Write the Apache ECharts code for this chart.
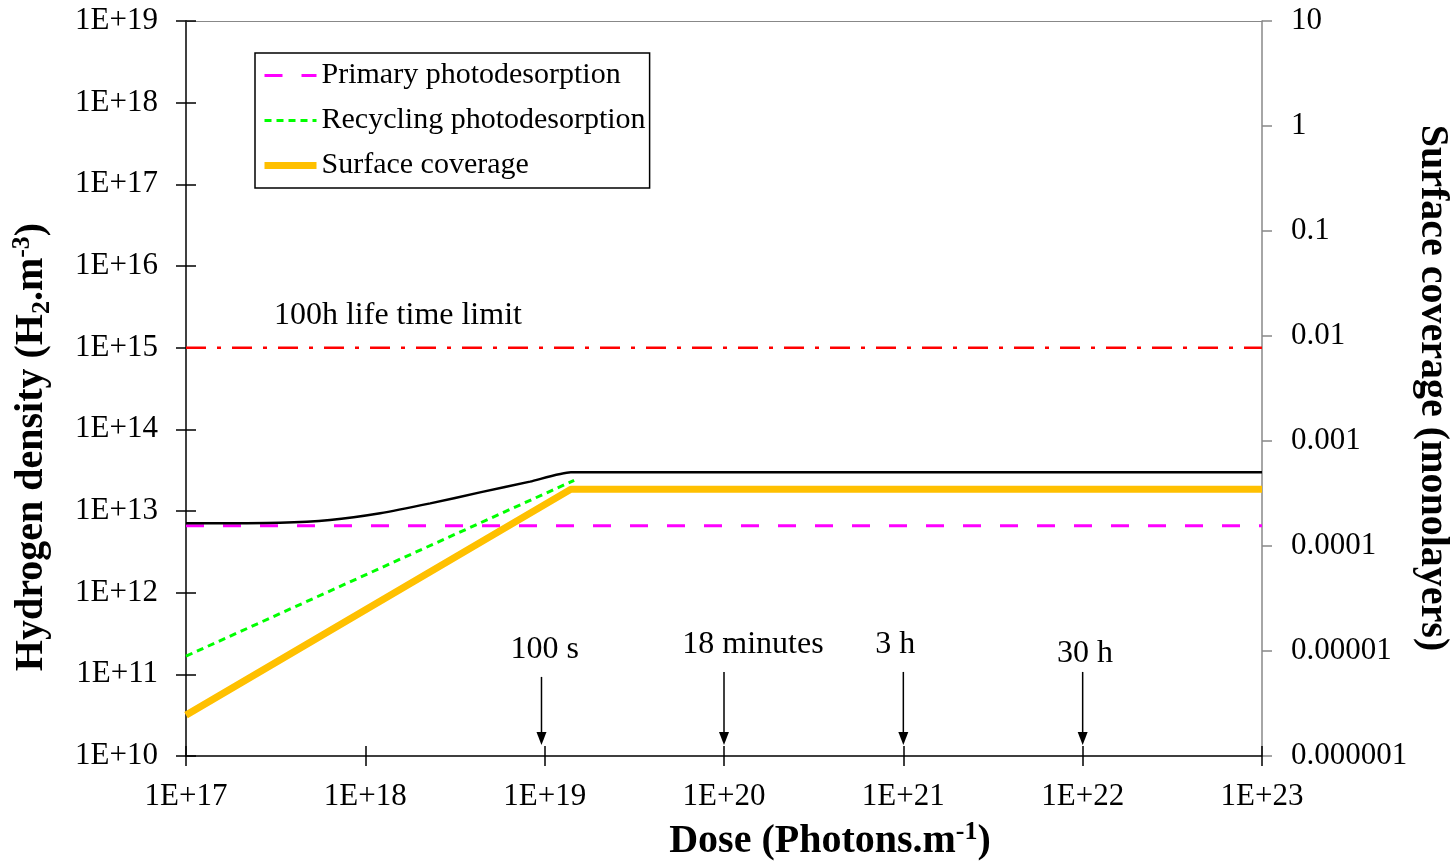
<!DOCTYPE html>
<html><head><meta charset="utf-8">
<script src="https://cdn.jsdelivr.net/npm/echarts@6/dist/echarts.min.js"></script>
<style>html,body{margin:0;padding:0;background:#fff}#c{width:1454px;height:862px}</style>
</head><body><div id="c"></div>
<script>
// ---- tick labels ----
const doseTickLabels = ['1E+17','1E+18','1E+19','1E+20','1E+21','1E+22','1E+23'];
const densityTickLabels = ['1E+10','1E+11','1E+12','1E+13','1E+14','1E+15','1E+16','1E+17','1E+18','1E+19'];
const coverageTickLabels = ['0.000001','0.00001','0.0001','0.001','0.01','0.1','1','10'];

// ---- series values ----
const primaryDose = [1e17, 1e23];
const primaryDensity = [6.6e12, 6.6e12];

const recyclingDose = [1e17, 1.46e19];
const recyclingDensity = [1.67e11, 2.37e13];

const coverageDose = [1e17, 1.4e19, 1e23];
const coverageValue = [2.45e-6, 3.47e-4, 3.47e-4];

const totalDose = [1e17, 3.34e17, 6.35e17, 1.21e18, 2.3e18, 4.36e18, 8.28e18, 1.4e19, 1e23];
const totalDensity = [7.06e12, 7.2e12, 7.76e12, 9.38e12, 1.24e13, 1.69e13, 2.29e13, 2.98e13, 2.98e13];

const limitDose = [1e17, 1e23];
const limitDensity = [1e15, 1e15];

// ---- annotations ----
const noteTexts = ['100h life time limit', '100 s', '18 minutes', '3 h', '30 h'];
const noteDose = [1.52e18, 1e19, 1.45e20, 9.0e20, 1.03e22];
const noteDensity = [2.5e15, 1.99e11, 2.29e11, 2.29e11, 1.82e11];

const arrowDose = [9.6e18, 1e20, 1e21, 1e22];
const arrowTopDensity = [9.3e10, 1.07e11, 1.07e11, 1.07e11];
const arrowTipDensity = [1.36e10, 1.36e10, 1.36e10, 1.36e10];

const legendNames = ['Primary photodesorption', 'Recycling photodesorption', 'Surface coverage'];

const FONT = 'Liberation Serif';
const TITLE_COLOR = '#333399';

const zip = (a, b) => a.map((v, i) => [v, b[i]]);
const expIndex = (v, base) => Math.round(Math.log10(v)) - base;

const chart = echarts.init(document.getElementById('c'), null, {renderer: 'canvas'});

const titleRich = {
  t: {fontFamily: FONT, fontSize: 40, fontWeight: 'bold', color: TITLE_COLOR, lineHeight: 46},
  sub: {fontFamily: FONT, fontSize: 26, fontWeight: 'bold', color: TITLE_COLOR, lineHeight: 26, verticalAlign: 'bottom'},
  sup: {fontFamily: FONT, fontSize: 26, fontWeight: 'bold', color: TITLE_COLOR, lineHeight: 26, verticalAlign: 'top'}
};

const baseX = {type: 'log', logBase: 10, min: 1e17, max: 1e23, gridIndex: 0, splitLine: {show: false}};
const baseYL = {type: 'log', logBase: 10, min: 1e10, max: 1e19, gridIndex: 0, splitLine: {show: false}};

const option = {
  animation: false,
  backgroundColor: '#fff',
  grid: {left: 186, right: 192, top: 21, bottom: 106, containLabel: false},
  xAxis: [
    Object.assign({}, baseX, {
      position: 'bottom',
      axisLine: {show: true, lineStyle: {color: '#000', width: 1.5}},
      axisTick: {show: true, inside: false, length: 10, lineStyle: {color: '#000', width: 1.5}},
      axisLabel: {show: true, fontFamily: FONT, fontSize: 31, color: '#000', margin: 25,
        showMinLabel: true, showMaxLabel: true,
        formatter: v => doseTickLabels[expIndex(v, 17)]}
    }),
    Object.assign({}, baseX, {
      position: 'bottom',
      axisLine: {show: false},
      axisTick: {show: true, inside: true, length: 10, lineStyle: {color: '#000', width: 1.5}},
      axisLabel: {show: false}
    }),
    Object.assign({}, baseX, {
      position: 'top',
      axisLine: {show: true, lineStyle: {color: '#888', width: 1.2}},
      axisTick: {show: false},
      axisLabel: {show: false}
    })
  ],
  yAxis: [
    Object.assign({}, baseYL, {
      position: 'left',
      axisLine: {show: true, lineStyle: {color: '#000', width: 1.5}},
      axisTick: {show: true, inside: false, length: 10, lineStyle: {color: '#000', width: 1.5}},
      axisLabel: {show: true, fontFamily: FONT, fontSize: 31, color: '#000', margin: 28,
        showMinLabel: true, showMaxLabel: true,
        formatter: v => densityTickLabels[expIndex(v, 10)]}
    }),
    {
      type: 'log', logBase: 10, min: 1e-6, max: 10, gridIndex: 0, position: 'right',
      splitLine: {show: false},
      axisLine: {show: true, lineStyle: {color: '#888', width: 1.5}},
      axisTick: {show: true, inside: false, length: 10, lineStyle: {color: '#888', width: 1.5}},
      axisLabel: {show: true, fontFamily: FONT, fontSize: 31, color: '#000', margin: 29,
        showMinLabel: true, showMaxLabel: true,
        formatter: v => coverageTickLabels[expIndex(v, -6)]}
    },
    Object.assign({}, baseYL, {
      position: 'left',
      axisLine: {show: false},
      axisTick: {show: true, inside: true, length: 10, lineStyle: {color: '#000', width: 1.5}},
      axisLabel: {show: false}
    })
  ],
  legend: {
    orient: 'vertical', left: 255, top: 53,
    data: [
      {name: legendNames[0], itemStyle: {opacity: 0}, lineStyle: {width: 3}},
      {name: legendNames[1], itemStyle: {opacity: 0}, lineStyle: {width: 3}},
      {name: legendNames[2], itemStyle: {opacity: 0}, lineStyle: {width: 7}}
    ],
    itemWidth: 52, itemHeight: 14, itemGap: 0,
    padding: [0, 4, 0, 6],
    borderColor: '#000', borderWidth: 1.5, backgroundColor: '#fff',
    textStyle: {fontFamily: FONT, fontSize: 30, color: '#000', lineHeight: 45},
    selectedMode: false
  },
  graphic: [
    {type: 'text', x: 32, y: 447, rotation: Math.PI / 2,
      style: {text: '{t|Hydrogen density (H}{sub|2}{t|.m}{sup|-3}{t|)}', rich: titleRich, align: 'center', verticalAlign: 'middle'}},
    {type: 'text', x: 1432, y: 388, rotation: -Math.PI / 2,
      style: {text: '{t|Surface coverage (monolayers)}', rich: titleRich, align: 'center', verticalAlign: 'middle'}},
    {type: 'text', x: 830, y: 842,
      style: {text: '{t|Dose (Photons.m}{sup|-1}{t|)}', rich: titleRich, align: 'center', verticalAlign: 'middle'}}
  ],
  series: [
    {
      name: '100h limit', type: 'line', xAxisIndex: 0, yAxisIndex: 0,
      data: zip(limitDose, limitDensity), symbol: 'none',
      lineStyle: {color: '#FF0000', width: 2.5, type: [20, 11, 4, 11]}
    },
    {
      name: legendNames[0], type: 'line', xAxisIndex: 0, yAxisIndex: 0,
      data: zip(primaryDose, primaryDensity), symbol: 'none',
      itemStyle: {color: '#FF00FF'},
      lineStyle: {color: '#FF00FF', width: 3, type: [18, 19]}
    },
    {
      name: legendNames[1], type: 'line', xAxisIndex: 0, yAxisIndex: 0,
      data: zip(recyclingDose, recyclingDensity), symbol: 'none',
      itemStyle: {color: '#00FF00'},
      lineStyle: {color: '#00FF00', width: 3, type: [7, 5]}
    },
    {
      name: legendNames[2], type: 'line', xAxisIndex: 0, yAxisIndex: 1,
      data: zip(coverageDose, coverageValue), symbol: 'none',
      itemStyle: {color: '#FFC000'},
      lineStyle: {color: '#FFC000', width: 7}
    },
    {
      name: 'Total', type: 'line', xAxisIndex: 0, yAxisIndex: 0,
      data: zip(totalDose, totalDensity), symbol: 'none', smooth: 0.2,
      lineStyle: {color: '#000', width: 2.5}
    },
    {
      name: 'arrows', type: 'custom', xAxisIndex: 0, yAxisIndex: 0, clip: false,
      data: arrowDose.map((d, i) => [d, arrowTopDensity[i], arrowTipDensity[i]]),
      encode: {x: 0, y: [1, 2]},
      renderItem: (params, api) => {
        const p1 = api.coord([api.value(0), api.value(1)]);
        const p2 = api.coord([api.value(0), api.value(2)]);
        return {type: 'group', children: [
          {type: 'line', shape: {x1: p1[0], y1: p1[1], x2: p2[0], y2: p2[1] - 10},
            style: {stroke: '#000', lineWidth: 1.5}},
          {type: 'polygon', shape: {points: [[p2[0] - 5, p2[1] - 13], [p2[0] + 5, p2[1] - 13], [p2[0], p2[1]]]},
            style: {fill: '#000'}}
        ]};
      }
    },
    {
      name: 'notes', type: 'custom', xAxisIndex: 0, yAxisIndex: 0, clip: false,
      data: noteDose.map((d, i) => [d, noteDensity[i], i]),
      encode: {x: 0, y: 1},
      renderItem: (params, api) => {
        const p = api.coord([api.value(0), api.value(1)]);
        return {type: 'text', x: p[0], y: p[1],
          style: {text: noteTexts[api.value(2)], fontFamily: FONT, fontSize: 32, fill: '#000',
            align: 'center', verticalAlign: 'middle'}};
      }
    }
  ]
};
chart.setOption(option);
</script>
</body></html>
